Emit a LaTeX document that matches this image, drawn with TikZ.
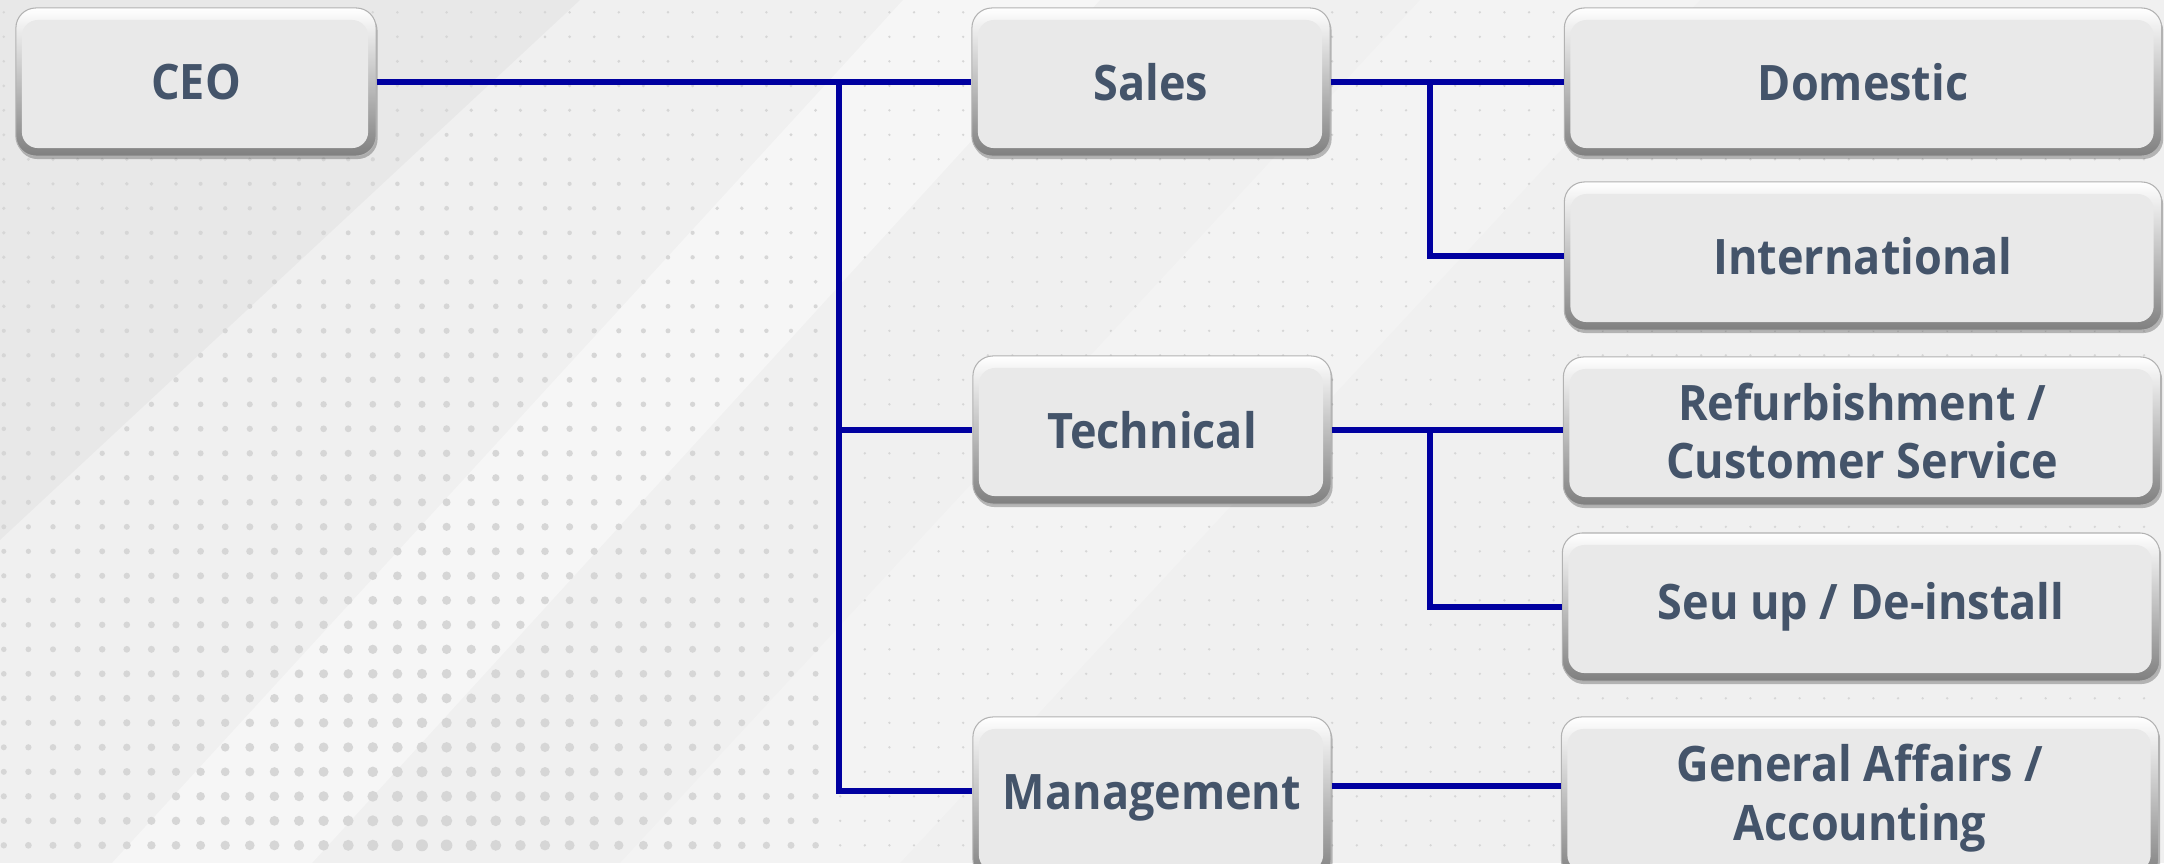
\documentclass[tikz,border=0pt]{standalone}
\usepackage{fontspec}
\setmainfont[FakeStretch=0.92]{Open Sans}
\usetikzlibrary{shadows}
\definecolor{bgc}{HTML}{F0F0F0}
\definecolor{linec}{HTML}{0000A0}
\definecolor{txt}{HTML}{44546A}
\definecolor{face}{HTML}{E9E9E9}
\definecolor{dotc}{HTML}{D6D6D6}
\tikzset{
  orgbox/.style={rectangle, rounded corners=0.2cm, minimum height=1.48cm, inner sep=0pt, align=center,
    draw=black!30, line width=0.3pt,
    top color=white, middle color=black!14, bottom color=black!50,
    drop shadow={shadow xshift=0.015cm, shadow yshift=-0.03cm, opacity=0.25, fill=black},
    path picture={\fill[face, rounded corners=0.16cm]
      ([xshift=0.06cm,yshift=0.08cm]path picture bounding box.south west) rectangle
      ([xshift=-0.08cm,yshift=-0.12cm]path picture bounding box.north east);},
    font=\fontsize{13.9}{16.6}\selectfont\bfseries, text=txt},
  narrowbox/.style={orgbox, minimum width=3.58cm},
  widebox/.style={orgbox, minimum width=5.97cm},
  tallbox/.style={minimum height=1.62cm},
  conn/.style={draw=linec, line width=0.055cm}
}
\begin{document}
\begin{tikzpicture}[x=0.01cm,y=-0.01cm]
\fill[bgc] (0,0) rectangle (2164,863);
\useasboundingbox (0,0) rectangle (2164,863);
% background sheen
\fill[black, opacity=0.03] (0,0) -- (580,0) -- (0,540) -- cycle;
\fill[white, opacity=0.4] (903,0) -- (1100,0) -- (312,863) -- (112,863) -- cycle;
\fill[white, opacity=0.2] (1420,0) -- (1700,0) -- (900,863) -- (620,863) -- cycle;
% dot grid
\foreach \i in {0,...,87}{\foreach \j in {0,...,34}{
  \pgfmathsetmacro\xx{3.8+24.6*\i}
  \pgfmathsetmacro\yy{12.3+24.5*\j}
  \pgfmathsetmacro\fx{(\xx<840)*max(0,1-abs(\xx-420)/700)}
  \pgfmathsetmacro\rr{0.005*(2.6+9.5*\fx*\yy/863)}
  \fill[dotc] (\xx,\yy) circle[radius=\rr cm];
}}
% boxes
\node[orgbox, minimum width=3.60cm] (ceo) at (196,82) {CEO};
\node[narrowbox] (sales) at (1151,82) {Sales};
\node[narrowbox] (tech) at (1152,430) {Technical};
\node[narrowbox, tallbox] (mgmt) at (1152,798) {Management};
\node[widebox] (dom) at (1863,82) {Domestic};
\node[widebox] (intl) at (1863,256) {International};
\node[widebox] (refurb) at (1862,431) {Refurbishment /\\Customer Service};
\node[widebox] (setup) at (1861,607) {Seu up / De-install};
\node[widebox, tallbox] (gen) at (1860,798) {General Affairs /\\Accounting};
% connectors
\coordinate (j) at (839,82);
\coordinate (b1) at (1430,82);
\coordinate (b2) at (1430,431);
\draw[conn] (ceo.east) -- (sales.west);
\draw[conn] (j) |- (tech.west);
\draw[conn] (j |- mgmt.west) ++(0,-7) coordinate (jm);
\draw[conn] (j) -- (jm) -- (jm -| mgmt.west);
\draw[conn] (sales.east) -- (dom.west);
\draw[conn] (b1) |- (intl.west);
\draw[conn] (tech.east) -- (tech.east -| refurb.west);
\draw[conn] (b2) |- (setup.west);
\coordinate (me) at ([yshift=0.12cm]mgmt.east);
\draw[conn] (me) -- (me -| gen.west);
\end{tikzpicture}
\end{document}
